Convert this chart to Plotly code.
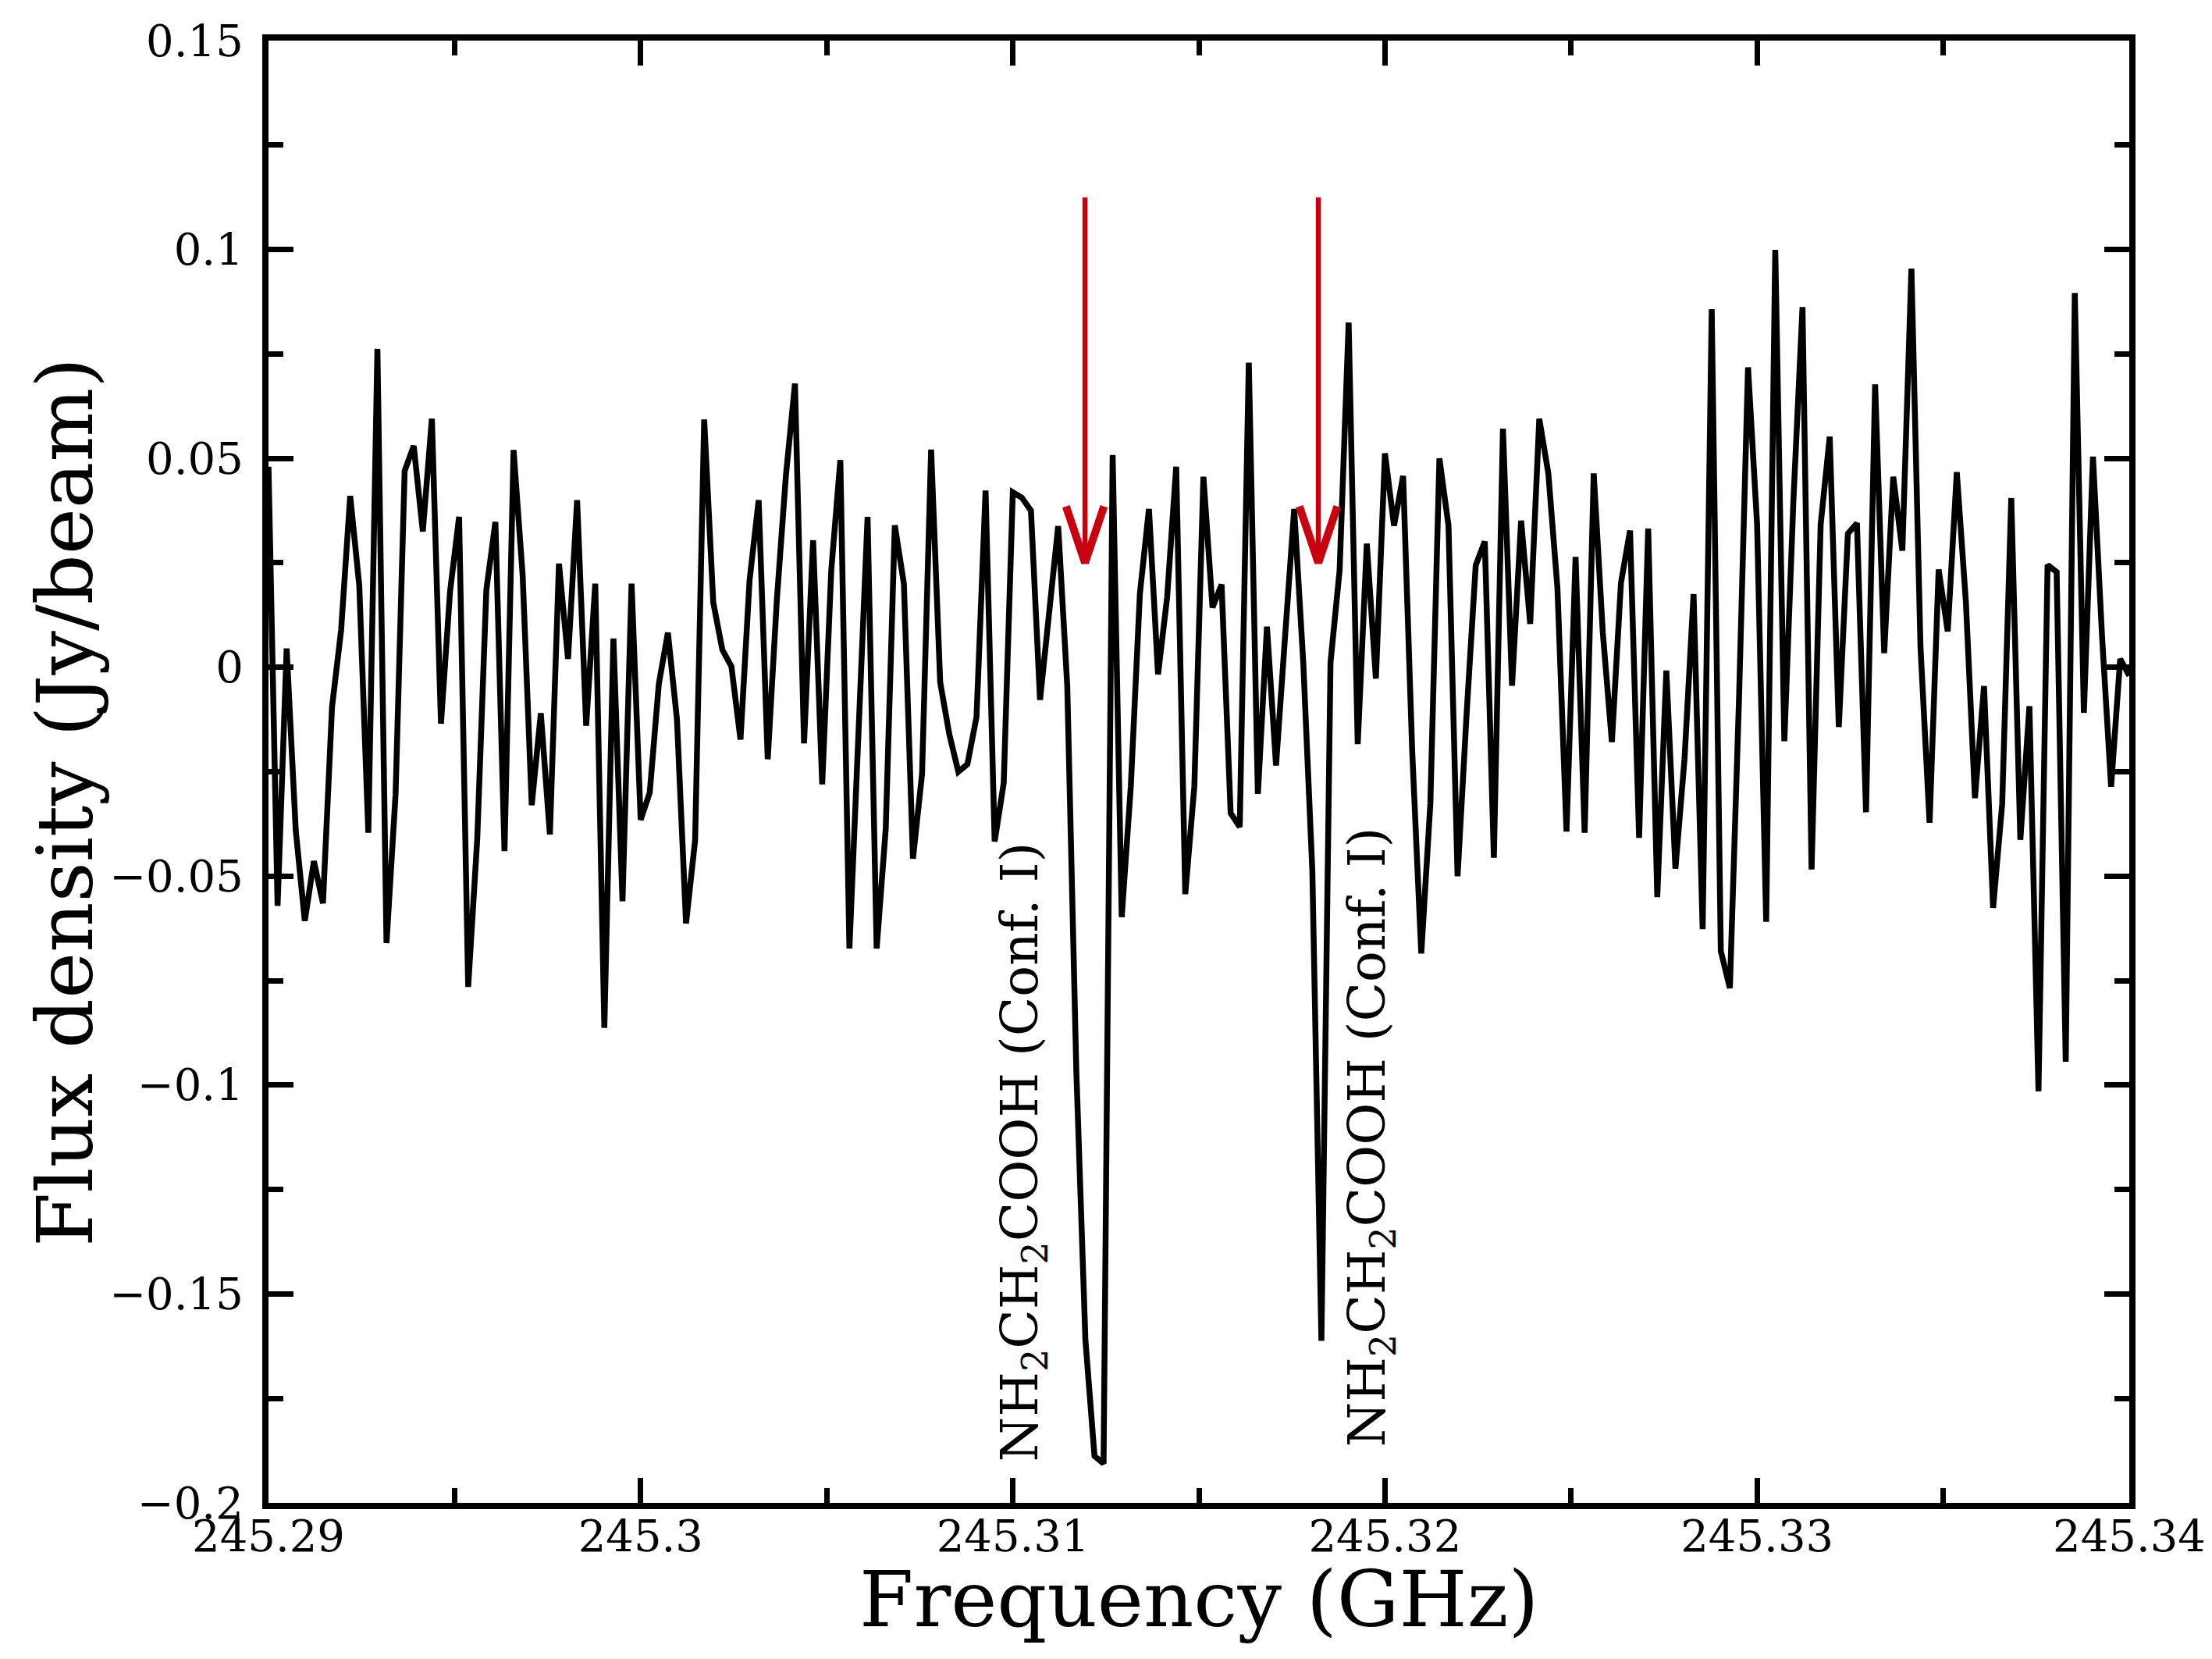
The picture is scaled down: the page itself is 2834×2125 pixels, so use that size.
import numpy as np
import plotly.graph_objects as go

# spectrum: 206 channels, first channel at 245.29 GHz
f_start = 245.29
chan_width = 0.05 / 205
flux = [
    0.048, -0.0571, 0.0045, -0.039, -0.0607, -0.0464, -0.0565, -0.0095, 0.0089, 0.041,
    0.0196, -0.0396, 0.0762, -0.066, -0.0304, 0.047, 0.053, 0.0325, 0.0595, -0.0135,
    0.0181, 0.036, -0.0765, -0.041, 0.0185, 0.0348, -0.044, 0.052, 0.022, -0.033,
    -0.011, -0.040, 0.0248, 0.002, 0.040, -0.014, 0.020, -0.0863, 0.0069, -0.056,
    0.020, -0.0365, -0.030, -0.004, 0.0083, -0.0125, -0.0613, -0.0414, 0.0593, 0.0155,
    0.0042, 0.0002, -0.0173, 0.0208, 0.040, -0.022, 0.016, 0.0458, 0.0679, -0.0182,
    0.0304, -0.028, 0.0232, 0.0496, -0.0673, -0.0155, 0.036, -0.0673, -0.0387, 0.034,
    0.020, -0.0458, -0.0256, 0.0521, -0.0036, -0.016, -0.025, -0.0232, -0.0119, 0.0423,
    -0.0417, -0.0277, 0.0419, 0.0406, 0.0375, -0.0078, 0.013, 0.0338, -0.0045, -0.0967,
    -0.161, -0.1888, -0.1906, 0.0508, -0.0598, -0.0285, 0.0176, 0.0379, -0.0017, 0.0167,
    0.048, -0.0543, -0.0285, 0.0456, 0.0143, 0.0198, -0.0349, -0.0382, 0.0729, -0.0303,
    0.0097, -0.0235, 0.0075, 0.0379, 0.0011, -0.0487, -0.1612, 0.0011, 0.0231, 0.0825,
    -0.0184, 0.0296, -0.0027, 0.0512, 0.0339, 0.0458, -0.020, -0.0685, -0.0327, 0.050,
    0.0339, -0.050, -0.011, 0.0244, 0.0301, -0.0456, 0.0571, -0.0044, 0.0351, 0.0104,
    0.0595, 0.0464, 0.019, -0.0393, 0.0264, -0.0396, 0.0464, 0.0083, -0.0179, 0.0202,
    0.0327, -0.0408, 0.0332, -0.055, -0.0008, -0.0482, -0.022, 0.0175, -0.0627, 0.0857,
    -0.0679, -0.0768, -0.008, 0.0718, 0.0341, -0.0609, 0.0999, -0.0177, 0.040, 0.0862,
    -0.0484, 0.0341, 0.0552, -0.0143, 0.032, 0.0345, -0.0347, 0.0677, 0.0034, 0.0456,
    0.0279, 0.0954, 0.0048, -0.0372, 0.0234, 0.0086, 0.0467, 0.0157, -0.0313, -0.0045,
    -0.0576, -0.0327, 0.0405, -0.0413, -0.0093, -0.1015, 0.0245, 0.0228, -0.0944, 0.0896,
    -0.0109, 0.0504, 0.0075, -0.0286, 0.002, -0.002,
]
freq = f_start + chan_width * np.arange(len(flux))

# line identifications
line_freqs = [245.31194, 245.31821]
arrow_top = 0.1125
arrow_tip = 0.025
label_x = [245.31027, 245.31961]
label_y = [-0.1159, -0.1125]
label_text = "NH<sub>2</sub>CH<sub>2</sub>COOH (Conf. I)"

xticks = [245.29, 245.30, 245.31, 245.32, 245.33, 245.34]
xticklabels = ["245.29", "245.3", "245.31", "245.32", "245.33", "245.34"]
yticks = [0.15, 0.1, 0.05, 0, -0.05, -0.1, -0.15, -0.2]
yticklabels = ["0.15", "0.1", "0.05", "0", "\u22120.05", "\u22120.1", "\u22120.15", "\u22120.2"]

red = "#c8000f"
font = "DejaVu Serif"

fig = go.Figure()
fig.add_trace(go.Scatter(x=freq, y=flux, mode="lines",
                         line=dict(color="black", width=7.5), showlegend=False))

# arrows: shaft + open chevron head
dw = 0.00051
dh = 0.0135
for f in line_freqs:
    fig.add_trace(go.Scatter(x=[f, f], y=[arrow_top, arrow_tip], mode="lines",
                             line=dict(color=red, width=6.5), showlegend=False))
    fig.add_trace(go.Scatter(x=[f - dw, f, f + dw], y=[arrow_tip + dh, arrow_tip, arrow_tip + dh],
                             mode="lines", line=dict(color=red, width=10), showlegend=False))

for lx, ly in zip(label_x, label_y):
    fig.add_annotation(x=lx, y=ly, text=label_text, textangle=-90, showarrow=False,
                       xanchor="center", yanchor="middle",
                       font=dict(family=font, size=66, color="black"))

# axis titles
fig.add_annotation(xref="paper", yref="paper", x=0.5, y=-0.066, text="Frequency (GHz)",
                   showarrow=False, xanchor="center", yanchor="middle",
                   font=dict(family=font, size=100, color="black"))
fig.add_annotation(xref="paper", yref="paper", x=-0.109, y=0.479, text="Flux density (Jy/beam)",
                   textangle=-90, showarrow=False, xanchor="center", yanchor="middle",
                   font=dict(family=font, size=100, color="black"))

axis_common = dict(showgrid=False, zeroline=False, showline=True, linecolor="black", linewidth=8,
                   mirror="allticks", ticks="inside", ticklen=32, tickwidth=7, tickcolor="black",
                   tickfont=dict(family=font, size=56, color="black"), tickmode="array")

fig.update_xaxes(range=[245.29, 245.34], tickvals=xticks, ticktext=xticklabels,
                 ticklabelstandoff=-13,
                 minor=dict(dtick=0.005, tick0=245.29, ticks="inside", ticklen=19, tickwidth=7,
                            tickcolor="black"),
                 **axis_common)
fig.update_yaxes(range=[-0.2, 0.15], tickvals=yticks, ticktext=yticklabels,
                 ticklabelstandoff=13,
                 minor=dict(dtick=0.025, tick0=-0.2, ticks="inside", ticklen=19, tickwidth=7,
                            tickcolor="black"),
                 **axis_common)

fig.update_layout(width=2834, height=2125, plot_bgcolor="white", paper_bgcolor="white",
                  margin=dict(l=336, r=114, t=37, b=208), font=dict(family=font))

fig.write_html("out.html")
